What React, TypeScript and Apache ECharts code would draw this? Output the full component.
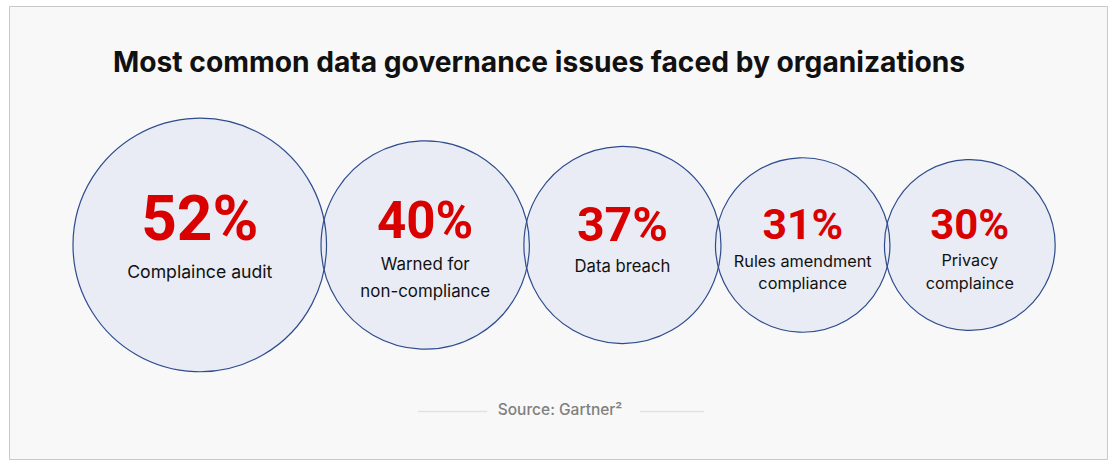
import { useEffect, useRef } from 'react';
import * as echarts from 'echarts';

const W = 1114;
const H = 463;
const titleText = 'Most common data governance issues faced by organizations';
const categories = [
  'Complaince audit',
  'Warned for\nnon-compliance',
  'Data breach',
  'Rules amendment\ncompliance',
  'Privacy\ncomplaince',
];
const values = [52, 40, 37, 31, 30];
const sourceText = 'Source: Gartner²';

const diameter = (v: number) => 57.8 + 3.764 * v;

export default function App() {
  const ref = useRef<HTMLDivElement>(null);
  useEffect(() => {
    const chart = echarts.init(ref.current!, null, { renderer: 'svg' });
    const ds = values.map(diameter);
    const xs: number[] = [];
    ds.forEach((d, i) => {
      if (i === 0) xs.push(73 + d / 2);
      else xs.push(xs[i - 1] + ds[i - 1] / 2 + d / 2 - 5.5);
    });
    const cy = 245;
    const fillData = values.map((v, i) => ({ value: [xs[i], cy, v], symbolSize: ds[i] }));
    const labelData = values.map((v, i) => {
      const d = ds[i];
      const lines = categories[i].split('\n');
      const n = lines.length;
      const ll = 0.13 * d;
      const lp = 2 * 0.21 * d - ll;
      return {
        value: [xs[i], cy, v],
        symbolSize: d,
        label: {
          show: true,
          position: 'inside',
          offset: [0, n === 1 ? -0.04 * d : 0.01 * d],
          formatter: `{p|${v}%}\n` + lines.map((s) => `{l|${s}}`).join('\n'),
          rich: {
            p: {
              fontSize: 0.245 * d,
              fontWeight: 700,
              color: '#d90000',
              lineHeight: lp,
              fontFamily: 'Roboto',
              align: 'center',
            },
            l: {
              fontSize: 1.1 * (12 + 0.016 * d),
              color: '#111111',
              lineHeight: ll,
              fontFamily: 'Inter',
              align: 'center',
            },
          },
        },
      };
    });

    chart.setOption({
      animation: false,
      backgroundColor: '#ffffff',
      grid: { left: 0, right: 0, top: 0, bottom: 0 },
      xAxis: { type: 'value', min: 0, max: W, show: false },
      yAxis: { type: 'value', min: 0, max: H, inverse: true, show: false },
      title: {
        text: titleText,
        left: 113,
        top: 48,
        padding: 0,
        textStyle: { fontSize: 28.2, fontWeight: 700, color: '#111111', fontFamily: 'Inter' },
      },
      graphic: [
        {
          type: 'rect',
          z: -10,
          shape: { x: 9.5, y: 6.5, width: 1098, height: 453 },
          style: { fill: '#f8f8f8', stroke: '#c9c9c9', lineWidth: 1 },
        },
        {
          type: 'line',
          shape: { x1: 418, y1: 411.5, x2: 487, y2: 411.5 },
          style: { stroke: '#e2e2e2', lineWidth: 1.5 },
        },
        {
          type: 'line',
          shape: { x1: 640, y1: 411.5, x2: 704, y2: 411.5 },
          style: { stroke: '#e2e2e2', lineWidth: 1.5 },
        },
        {
          type: 'text',
          x: 560,
          y: 409,
          style: {
            text: sourceText,
            fill: '#808080',
            font: '500 15.5px Inter',
            align: 'center',
            verticalAlign: 'middle',
          },
        },
      ],
      series: [
        {
          type: 'scatter',
          symbol: 'circle',
          silent: true,
          z: 1,
          itemStyle: { color: '#e9ecf4', borderWidth: 0, opacity: 1 },
          data: fillData,
        },
        {
          type: 'scatter',
          symbol: 'circle',
          silent: true,
          z: 2,
          itemStyle: { color: 'rgba(0,0,0,0)', borderColor: '#2e4c8d', borderWidth: 1.2, opacity: 1 },
          data: labelData,
        },
      ],
    });
    return () => chart.dispose();
  }, []);
  return (
    <div
      ref={ref}
      style={{ position: 'absolute', left: 0, top: 0, width: W, height: H }}
    />
  );
}
